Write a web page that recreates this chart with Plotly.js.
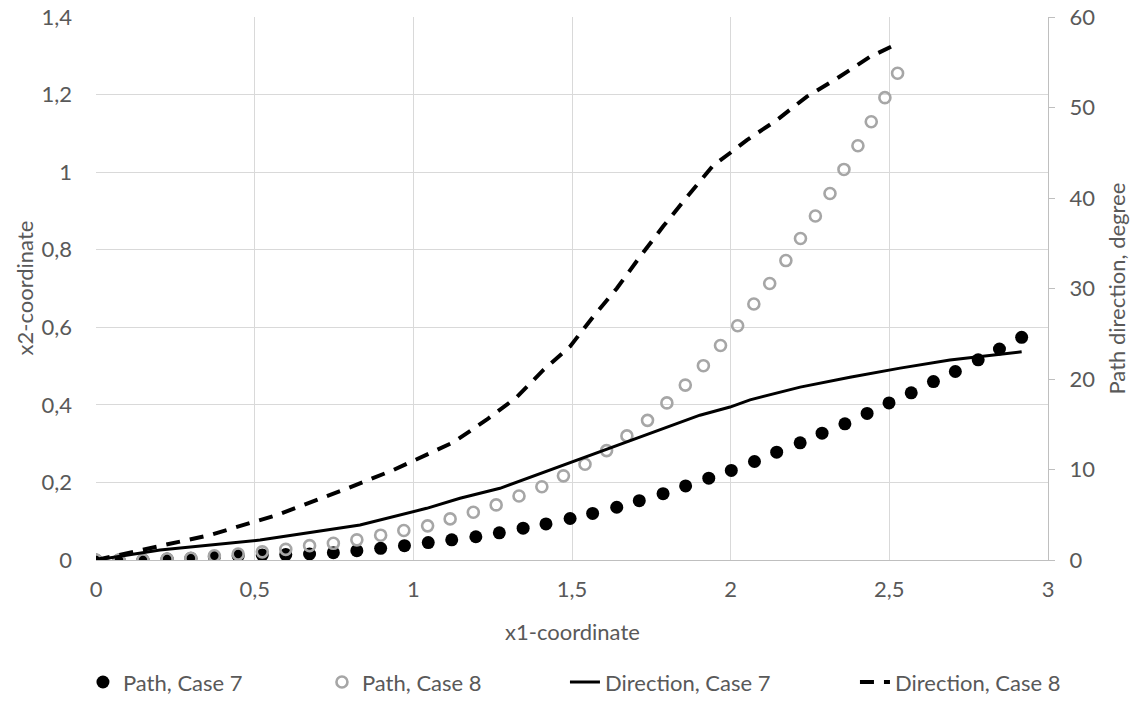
<!DOCTYPE html>
<html>
<head>
<meta charset="utf-8">
<script src="https://cdn.plot.ly/plotly-3.0.1.min.js"></script>
<style>html,body{margin:0;padding:0;background:#fff;}#chart{width:1138px;height:717px;}</style>
</head>
<body>
<div id="chart"></div>
<script>
// Path, Case 7 (x1, x2)
const path7X = [0, 0.0725, 0.148, 0.224, 0.299, 0.373, 0.448, 0.524, 0.598, 0.673, 0.748, 0.822, 0.897, 0.972, 1.047, 1.121, 1.197, 1.271, 1.346, 1.418, 1.494, 1.565, 1.641, 1.712, 1.787, 1.858, 1.931, 2.002, 2.075, 2.145, 2.219, 2.288, 2.360, 2.430, 2.499, 2.569, 2.639, 2.708, 2.780, 2.847, 2.917];
const path7Y = [0, 0, 0, 0.0026, 0.0044, 0.0085, 0.011, 0.013, 0.014, 0.0155, 0.019, 0.024, 0.030, 0.037, 0.045, 0.052, 0.060, 0.070, 0.082, 0.093, 0.107, 0.120, 0.136, 0.153, 0.171, 0.191, 0.211, 0.231, 0.254, 0.278, 0.302, 0.327, 0.351, 0.378, 0.405, 0.431, 0.460, 0.486, 0.516, 0.544, 0.574];
// Path, Case 8 (x1, x2)
const path8X = [0, 0.0725, 0.148, 0.224, 0.299, 0.373, 0.448, 0.524, 0.598, 0.673, 0.748, 0.822, 0.897, 0.970, 1.045, 1.116, 1.189, 1.261, 1.333, 1.405, 1.473, 1.541, 1.609, 1.673, 1.738, 1.799, 1.857, 1.914, 1.968, 2.022, 2.073, 2.123, 2.174, 2.220, 2.267, 2.313, 2.357, 2.401, 2.443, 2.486, 2.526];
const path8Y = [0, 0, 0, 0.0026, 0.0044, 0.011, 0.0155, 0.021, 0.0275, 0.037, 0.043, 0.052, 0.064, 0.076, 0.088, 0.106, 0.123, 0.142, 0.165, 0.189, 0.217, 0.247, 0.282, 0.320, 0.360, 0.405, 0.451, 0.501, 0.553, 0.604, 0.660, 0.713, 0.772, 0.829, 0.887, 0.945, 1.007, 1.068, 1.130, 1.192, 1.255];
// Direction, Case 7 (x1, degree)
const dir7X = [0, 0.202, 0.517, 0.832, 1.042, 1.147, 1.273, 1.431, 1.588, 1.746, 1.903, 1.998, 2.061, 2.219, 2.376, 2.534, 2.691, 2.917];
const dir7Y = [0, 1.1, 2.2, 3.87, 5.71, 6.82, 7.92, 9.94, 11.97, 14.0, 16.0, 16.9, 17.7, 19.1, 20.2, 21.2, 22.1, 23.0];
// Direction, Case 8 (x1, degree)
const dir8X = [0, 0.149, 0.359, 0.570, 0.779, 0.937, 1.126, 1.231, 1.326, 1.410, 1.494, 1.567, 1.641, 1.714, 1.788, 1.862, 1.945, 2.003, 2.051, 2.145, 2.240, 2.334, 2.439, 2.529];
const dir8Y = [0, 1.10, 2.76, 4.97, 7.73, 9.94, 13.0, 15.5, 18.0, 21.0, 23.6, 26.9, 30.0, 33.5, 36.9, 40.1, 43.6, 45.1, 46.4, 48.6, 51.2, 53.2, 55.6, 57.1];

const seriesNames = ['Path, Case 7', 'Path, Case 8', 'Direction, Case 7', 'Direction, Case 8'];
const xTitle = 'x1-coordinate';
const yTitle = 'x2-coordinate';
const y2Title = 'Path direction, degree';

const FONT = 'Lato, Open Sans, sans-serif';
const TXT = '#595959';
const FS = 22;

const traces = [
  {x: path7X, y: path7Y, name: seriesNames[0], type: 'scatter', mode: 'markers', legendwidth: 194,
   marker: {symbol: 'circle', size: 13, color: '#000000'}},
  {x: path8X, y: path8Y, name: seriesNames[1], type: 'scatter', mode: 'markers', legendwidth: 198,
   marker: {symbol: 'circle-open', size: 11, color: '#a6a6a6', line: {width: 2.6, color: '#a6a6a6'}}},
  {x: dir7X, y: dir7Y, name: seriesNames[2], type: 'scatter', mode: 'lines', yaxis: 'y2', legendwidth: 245,
   line: {color: '#000000', width: 3}},
  {x: dir8X, y: dir8Y, name: seriesNames[3], type: 'scatter', mode: 'lines', yaxis: 'y2', legendwidth: 170,
   line: {color: '#000000', width: 4, dash: '14px,10px'}}
];

const layout = {
  width: 1138, height: 717,
  margin: {l: 96, r: 90, t: 17, b: 157},
  paper_bgcolor: '#ffffff', plot_bgcolor: '#ffffff',
  separators: ',.',
  font: {family: FONT, size: FS, color: TXT},
  showlegend: true,
  legend: {orientation: 'h', x: -0.0137, xanchor: 'left', y: -0.225, yanchor: 'middle',
           font: {family: FONT, size: FS, color: TXT}, traceorder: 'normal'},
  xaxis: {range: [0, 3], dtick: 0.5, tick0: 0, showgrid: true, gridcolor: '#d9d9d9', gridwidth: 1,
          zeroline: false, showline: true, linecolor: '#bfbfbf', linewidth: 1, ticks: '',
          automargin: false, ticklabelstandoff: 10,
          tickfont: {family: FONT, size: FS, color: TXT}},
  yaxis: {range: [0, 1.4], dtick: 0.2, tick0: 0, showgrid: true, gridcolor: '#d9d9d9', gridwidth: 1,
          zeroline: false, showline: false, ticks: '', automargin: false, ticklabelstandoff: 23,
          tickfont: {family: FONT, size: FS, color: TXT}},
  yaxis2: {range: [0, 60], dtick: 10, tick0: 0, overlaying: 'y', side: 'right', showgrid: false,
           zeroline: false, showline: true, linecolor: '#bfbfbf', linewidth: 1,
           ticks: 'outside', ticklen: 6, tickcolor: '#bfbfbf', automargin: false, ticklabelstandoff: 10,
           tickfont: {family: FONT, size: FS, color: TXT}},
  annotations: [
    {text: xTitle, xref: 'paper', yref: 'paper', x: 0.5, y: 0, xanchor: 'center', yanchor: 'middle',
     yshift: -71, showarrow: false, font: {family: FONT, size: FS, color: TXT}},
    {text: yTitle, xref: 'paper', yref: 'paper', x: 0, y: 0.5, xanchor: 'center', yanchor: 'middle',
     xshift: -72, textangle: -90, showarrow: false, font: {family: FONT, size: FS, color: TXT}},
    {text: y2Title, xref: 'paper', yref: 'paper', x: 1, y: 0.5, xanchor: 'center', yanchor: 'middle',
     xshift: 68, textangle: -90, showarrow: false, font: {family: FONT, size: FS, color: TXT}}
  ]
};

Plotly.newPlot('chart', traces, layout, {displayModeBar: false, responsive: false});
</script>
</body>
</html>
